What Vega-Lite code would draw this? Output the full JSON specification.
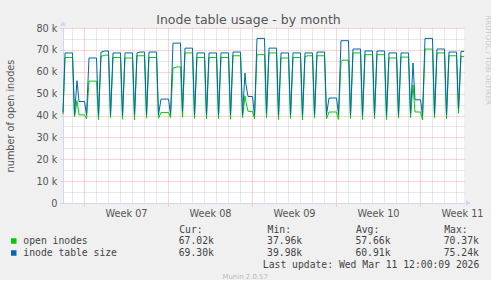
{
  "$schema": "https://vega.github.io/schema/vega-lite/v6.json",
  "background": "#f0f0f0",
  "padding": {"left": 5, "top": 14, "right": 0, "bottom": 0},
  "spacing": 6,
  "config": {
    "font": "DejaVu Sans",
    "view": {"stroke": null},
    "axis": {"labelFont": "DejaVu Sans", "titleFont": "DejaVu Sans"}
  },
  "title": {
    "text": "Inode table usage - by month",
    "anchor": "middle",
    "frame": "bounds",
    "fontSize": 12.5,
    "fontWeight": "normal",
    "font": "DejaVu Sans",
    "color": "#555555",
    "offset": -11.5
  },
  "datasets": {
    "series": [
      {"t": "2026-02-07T06:00", "open": 40500, "size": 41500},
      {"t": "2026-02-07T10:00", "open": 66500, "size": 68600},
      {"t": "2026-02-08T01:00", "open": 66500, "size": 68600},
      {"t": "2026-02-08T05:00", "open": 39300, "size": 40300},
      {"t": "2026-02-08T10:00", "open": 46800, "size": 55900},
      {"t": "2026-02-08T14:00", "open": 40300, "size": 46400},
      {"t": "2026-02-09T01:00", "open": 40300, "size": 46400},
      {"t": "2026-02-09T05:00", "open": 38500, "size": 40300},
      {"t": "2026-02-09T10:00", "open": 55700, "size": 66300},
      {"t": "2026-02-10T01:00", "open": 55700, "size": 66300},
      {"t": "2026-02-10T05:00", "open": 38100, "size": 40000},
      {"t": "2026-02-10T10:00", "open": 67000, "size": 69000},
      {"t": "2026-02-10T18:00", "open": 67600, "size": 69500},
      {"t": "2026-02-11T01:00", "open": 67600, "size": 69500},
      {"t": "2026-02-11T05:00", "open": 39000, "size": 40300},
      {"t": "2026-02-11T10:00", "open": 66500, "size": 68600},
      {"t": "2026-02-12T01:00", "open": 66500, "size": 68600},
      {"t": "2026-02-12T05:00", "open": 38300, "size": 40000},
      {"t": "2026-02-12T10:00", "open": 66300, "size": 68600},
      {"t": "2026-02-13T01:00", "open": 66300, "size": 68600},
      {"t": "2026-02-13T05:00", "open": 38100, "size": 40300},
      {"t": "2026-02-13T10:00", "open": 67300, "size": 68600},
      {"t": "2026-02-13T16:00", "open": 67300, "size": 69000},
      {"t": "2026-02-14T01:00", "open": 67300, "size": 69000},
      {"t": "2026-02-14T05:00", "open": 38800, "size": 40300},
      {"t": "2026-02-14T10:00", "open": 66500, "size": 69000},
      {"t": "2026-02-15T01:00", "open": 66500, "size": 69000},
      {"t": "2026-02-15T05:00", "open": 38800, "size": 40300},
      {"t": "2026-02-15T10:00", "open": 41400, "size": 47500},
      {"t": "2026-02-16T01:00", "open": 41400, "size": 47500},
      {"t": "2026-02-16T05:00", "open": 39000, "size": 40500},
      {"t": "2026-02-16T10:00", "open": 61700, "size": 73100},
      {"t": "2026-02-16T18:00", "open": 62200, "size": 73100},
      {"t": "2026-02-17T01:00", "open": 62200, "size": 73100},
      {"t": "2026-02-17T05:00", "open": 39200, "size": 41900},
      {"t": "2026-02-17T10:00", "open": 68600, "size": 70800},
      {"t": "2026-02-18T01:00", "open": 68600, "size": 70800},
      {"t": "2026-02-18T05:00", "open": 38700, "size": 40300},
      {"t": "2026-02-18T10:00", "open": 66500, "size": 68600},
      {"t": "2026-02-19T01:00", "open": 66500, "size": 68600},
      {"t": "2026-02-19T05:00", "open": 38500, "size": 40300},
      {"t": "2026-02-19T10:00", "open": 66500, "size": 68600},
      {"t": "2026-02-20T01:00", "open": 66500, "size": 68600},
      {"t": "2026-02-20T05:00", "open": 38600, "size": 40200},
      {"t": "2026-02-20T10:00", "open": 66500, "size": 68600},
      {"t": "2026-02-21T01:00", "open": 66500, "size": 68600},
      {"t": "2026-02-21T05:00", "open": 38300, "size": 40300},
      {"t": "2026-02-21T10:00", "open": 67300, "size": 69000},
      {"t": "2026-02-22T01:00", "open": 67300, "size": 69000},
      {"t": "2026-02-22T05:00", "open": 39000, "size": 40300},
      {"t": "2026-02-22T10:00", "open": 49000, "size": 59400},
      {"t": "2026-02-22T12:00", "open": 46000, "size": 54000},
      {"t": "2026-02-22T16:00", "open": 41900, "size": 48700},
      {"t": "2026-02-23T01:00", "open": 41900, "size": 48700},
      {"t": "2026-02-23T05:00", "open": 38500, "size": 40000},
      {"t": "2026-02-23T10:00", "open": 67800, "size": 75240},
      {"t": "2026-02-24T01:00", "open": 67800, "size": 75240},
      {"t": "2026-02-24T05:00", "open": 39000, "size": 41000},
      {"t": "2026-02-24T10:00", "open": 68600, "size": 70800},
      {"t": "2026-02-25T01:00", "open": 68600, "size": 70800},
      {"t": "2026-02-25T05:00", "open": 38200, "size": 40300},
      {"t": "2026-02-25T10:00", "open": 66300, "size": 68600},
      {"t": "2026-02-26T01:00", "open": 66300, "size": 68600},
      {"t": "2026-02-26T05:00", "open": 38700, "size": 40300},
      {"t": "2026-02-26T10:00", "open": 66500, "size": 68600},
      {"t": "2026-02-27T01:00", "open": 66500, "size": 68600},
      {"t": "2026-02-27T05:00", "open": 38000, "size": 40000},
      {"t": "2026-02-27T10:00", "open": 67000, "size": 68600},
      {"t": "2026-02-27T16:00", "open": 67300, "size": 68600},
      {"t": "2026-02-28T01:00", "open": 67300, "size": 68600},
      {"t": "2026-02-28T05:00", "open": 38800, "size": 40300},
      {"t": "2026-02-28T10:00", "open": 67300, "size": 69000},
      {"t": "2026-03-01T01:00", "open": 67300, "size": 69000},
      {"t": "2026-03-01T05:00", "open": 38500, "size": 40300},
      {"t": "2026-03-01T10:00", "open": 41600, "size": 48000},
      {"t": "2026-03-02T01:00", "open": 41600, "size": 48000},
      {"t": "2026-03-02T05:00", "open": 38200, "size": 40500},
      {"t": "2026-03-02T10:00", "open": 64700, "size": 74200},
      {"t": "2026-03-02T14:00", "open": 65300, "size": 74200},
      {"t": "2026-03-03T01:00", "open": 65300, "size": 74200},
      {"t": "2026-03-03T05:00", "open": 38700, "size": 40300},
      {"t": "2026-03-03T10:00", "open": 68600, "size": 70400},
      {"t": "2026-03-04T01:00", "open": 68600, "size": 70400},
      {"t": "2026-03-04T05:00", "open": 38200, "size": 40000},
      {"t": "2026-03-04T10:00", "open": 67800, "size": 69500},
      {"t": "2026-03-05T01:00", "open": 67800, "size": 69500},
      {"t": "2026-03-05T05:00", "open": 38600, "size": 40300},
      {"t": "2026-03-05T10:00", "open": 67800, "size": 69500},
      {"t": "2026-03-06T01:00", "open": 67800, "size": 69500},
      {"t": "2026-03-06T05:00", "open": 38200, "size": 40000},
      {"t": "2026-03-06T10:00", "open": 66300, "size": 68600},
      {"t": "2026-03-07T01:00", "open": 66300, "size": 68600},
      {"t": "2026-03-07T05:00", "open": 38800, "size": 40300},
      {"t": "2026-03-07T10:00", "open": 66700, "size": 68600},
      {"t": "2026-03-08T01:00", "open": 66700, "size": 68600},
      {"t": "2026-03-08T05:00", "open": 39000, "size": 41000},
      {"t": "2026-03-08T10:00", "open": 54000, "size": 64000},
      {"t": "2026-03-08T14:00", "open": 41600, "size": 47200},
      {"t": "2026-03-09T01:00", "open": 41600, "size": 47200},
      {"t": "2026-03-09T05:00", "open": 37960, "size": 39980},
      {"t": "2026-03-09T10:00", "open": 70370, "size": 75240},
      {"t": "2026-03-10T01:00", "open": 70370, "size": 75240},
      {"t": "2026-03-10T05:00", "open": 38900, "size": 40300},
      {"t": "2026-03-10T10:00", "open": 68600, "size": 70400},
      {"t": "2026-03-11T01:00", "open": 68600, "size": 70400},
      {"t": "2026-03-11T05:00", "open": 38400, "size": 40300},
      {"t": "2026-03-11T10:00", "open": 67300, "size": 69000},
      {"t": "2026-03-12T01:00", "open": 67300, "size": 69000},
      {"t": "2026-03-12T05:00", "open": 41000, "size": 43000},
      {"t": "2026-03-12T10:00", "open": 67020, "size": 69300},
      {"t": "2026-03-12T16:00", "open": 67020, "size": 69300}
    ],
    "legend": [
      {"series": "open inodes", "Cur": "67.02k", "Min": "37.96k", "Avg": "57.66k", "Max": "70.37k"},
      {"series": "inode table size", "Cur": "69.30k", "Min": "39.98k", "Avg": "60.91k", "Max": "75.24k"}
    ]
  },
  "vconcat": [
    {
      "width": 401,
      "height": 175,
      "view": {"fill": "#ffffff", "stroke": null},
      "data": {"name": "series"},
      "layer": [
        {
          "mark": {"type": "line", "color": "#00cc00", "strokeWidth": 1},
          "encoding": {
            "x": {
              "field": "t", "type": "temporal",
              "scale": {"domain": [{"year": 2026, "month": 2, "date": 7, "hours": 6}, {"year": 2026, "month": 3, "date": 12, "hours": 16}]},
              "axis": {
                "orient": "top", "grid": true, "gridColor": "#d0d0d0", "gridDash": [1, 1],
                "labels": false, "ticks": false, "domain": false, "title": null,
                "values": [
                  {"year": 2026, "month": 2, "date": 8}, {"year": 2026, "month": 2, "date": 10},
                  {"year": 2026, "month": 2, "date": 11}, {"year": 2026, "month": 2, "date": 12},
                  {"year": 2026, "month": 2, "date": 13}, {"year": 2026, "month": 2, "date": 14},
                  {"year": 2026, "month": 2, "date": 15}, {"year": 2026, "month": 2, "date": 17},
                  {"year": 2026, "month": 2, "date": 18}, {"year": 2026, "month": 2, "date": 19},
                  {"year": 2026, "month": 2, "date": 20}, {"year": 2026, "month": 2, "date": 21},
                  {"year": 2026, "month": 2, "date": 22}, {"year": 2026, "month": 2, "date": 24},
                  {"year": 2026, "month": 2, "date": 25}, {"year": 2026, "month": 2, "date": 26},
                  {"year": 2026, "month": 2, "date": 27}, {"year": 2026, "month": 2, "date": 28},
                  {"year": 2026, "month": 3, "date": 1}, {"year": 2026, "month": 3, "date": 3},
                  {"year": 2026, "month": 3, "date": 4}, {"year": 2026, "month": 3, "date": 5},
                  {"year": 2026, "month": 3, "date": 6}, {"year": 2026, "month": 3, "date": 7},
                  {"year": 2026, "month": 3, "date": 8}, {"year": 2026, "month": 3, "date": 10},
                  {"year": 2026, "month": 3, "date": 11}, {"year": 2026, "month": 3, "date": 12}
                ]
              }
            },
            "y": {
              "field": "open", "type": "quantitative",
              "scale": {"domain": [0, 80000], "nice": false},
              "axis": {
                "orient": "right", "grid": true, "gridColor": "#d0d0d0", "gridDash": [1, 1],
                "values": [5000, 15000, 25000, 35000, 45000, 55000, 65000, 75000],
                "labels": false, "ticks": false, "domain": false,
                "title": "RRDTOOL / TOBI OETIKER", "titleAngle": 90, "titleFontSize": 6.94,
                "titleFontWeight": "normal", "titleColor": "#c8c8c8", "titleAlign": "left",
                "titleBaseline": "middle", "titleX": 23, "titleY": -13
              }
            }
          }
        },
        {
          "mark": {"type": "line", "color": "#0066b3", "strokeWidth": 1},
          "encoding": {
            "x": {
              "field": "t", "type": "temporal",
              "axis": {
                "orient": "bottom", "grid": true, "gridColor": "#f0a8a8", "gridDash": [1, 1],
                "values": [
                  {"year": 2026, "month": 2, "date": 9}, {"year": 2026, "month": 2, "date": 16},
                  {"year": 2026, "month": 2, "date": 23}, {"year": 2026, "month": 3, "date": 2},
                  {"year": 2026, "month": 3, "date": 9}
                ],
                "labelExpr": "'Week ' + timeFormat(datum.value, '%V')",
                "labelOffset": 42, "labelFlush": false, "labelOverlap": false, "labelBound": false,
                "labelFontSize": 9.72, "labelColor": "#555555", "labelPadding": 2,
                "ticks": true, "tickSize": 3, "tickColor": "#f0a8a8", "tickDash": [1, 1],
                "domain": true, "domainColor": "#cfd6f8", "title": null
              }
            },
            "y": {
              "field": "size", "type": "quantitative",
              "axis": {
                "orient": "left", "grid": true, "gridColor": "#f0a8a8", "gridDash": [1, 1],
                "values": [0, 10000, 20000, 30000, 40000, 50000, 60000, 70000, 80000],
                "labelExpr": "datum.value == 0 ? '0\u00a0\u00a0' : (datum.value / 1000) + ' k'",
                "labelFontSize": 9.72, "labelColor": "#555555", "labelPadding": 3,
                "ticks": true, "tickSize": 3, "tickColor": "#f0a8a8", "tickDash": [1, 1],
                "domain": true, "domainColor": "#cfd6f8",
                "title": "number of open inodes", "titleFontSize": 9.72, "titleFontWeight": "normal",
                "titleColor": "#555555", "titlePadding": 20
              }
            }
          }
        },
        {
          "mark": {"type": "point", "shape": "triangle-up", "filled": true, "size": 22, "color": "#cfd6f8", "opacity": 1, "yOffset": -4},
          "encoding": {
            "x": {"datum": {"year": 2026, "month": 2, "date": 7, "hours": 6}, "type": "temporal", "axis": null},
            "y": {"datum": 80000, "type": "quantitative", "axis": null}
          }
        },
        {
          "mark": {"type": "point", "shape": "triangle-right", "filled": true, "size": 22, "color": "#cfd6f8", "opacity": 1, "xOffset": 4},
          "encoding": {
            "x": {"datum": {"year": 2026, "month": 3, "date": 12, "hours": 16}, "type": "temporal", "axis": null},
            "y": {"datum": 0, "type": "quantitative", "axis": null}
          }
        }
      ],
      "resolve": {"axis": {"x": "independent", "y": "independent"}}
    },
    {
      "width": 401,
      "height": 24,
      "view": {"fill": null, "stroke": null},
      "title": {
        "text": "Munin 2.0.57", "orient": "bottom", "anchor": "middle", "frame": "bounds",
        "fontSize": 6.94, "fontWeight": "normal", "color": "#bbbbbb", "offset": 4
      },
      "data": {"name": "legend"},
      "layer": [
        {
          "transform": [{"fold": ["Cur", "Min", "Avg", "Max"], "as": ["stat", "val"]}],
          "mark": {"type": "text", "align": "left", "baseline": "middle", "font": "DejaVu Sans Mono", "fontSize": 9.72, "color": "#444444"},
          "encoding": {
            "x": {
              "field": "stat", "type": "nominal",
              "scale": {"type": "point", "domain": ["Cur", "Min", "Avg", "Max"], "padding": 0.77, "align": 0.851},
              "axis": {
                "orient": "top", "labelExpr": "datum.value + ':'", "labelAlign": "left", "labelBaseline": "middle",
                "labelFont": "DejaVu Sans Mono", "labelFontSize": 9.72, "labelColor": "#444444",
                "labelPadding": 12, "ticks": false, "tickSize": 0, "domain": false, "grid": false, "title": null, "labelAngle": 0
              }
            },
            "y": {
              "field": "series", "type": "nominal",
              "scale": {"type": "point", "domain": ["open inodes", "inode table size", "upd"], "padding": 0},
              "axis": null
            },
            "text": {"field": "val"}
          }
        },
        {
          "mark": {"type": "text", "align": "left", "baseline": "middle", "font": "DejaVu Sans Mono", "fontSize": 9.72, "color": "#444444", "dx": -155.4},
          "encoding": {
            "x": {"datum": "Cur", "type": "nominal"},
            "y": {"field": "series", "type": "nominal"},
            "text": {"field": "series"}
          }
        },
        {
          "mark": {"type": "square", "filled": true, "opacity": 1, "size": 30, "xOffset": -165},
          "encoding": {
            "x": {"datum": "Cur", "type": "nominal"},
            "y": {"field": "series", "type": "nominal"},
            "color": {"field": "series", "type": "nominal", "scale": {"domain": ["open inodes", "inode table size"], "range": ["#00cc00", "#0066b3"]}, "legend": null}
          }
        },
        {
          "data": {"values": [{"row": "upd", "label": "Last update: Wed Mar 11 12:00:09 2026"}]},
          "mark": {"type": "text", "align": "right", "baseline": "middle", "font": "DejaVu Sans Mono", "fontSize": 9.72, "color": "#444444", "dx": 35.6},
          "encoding": {
            "x": {"datum": "Max", "type": "nominal"},
            "y": {"field": "row", "type": "nominal"},
            "text": {"field": "label"}
          }
        }
      ]
    }
  ]
}
